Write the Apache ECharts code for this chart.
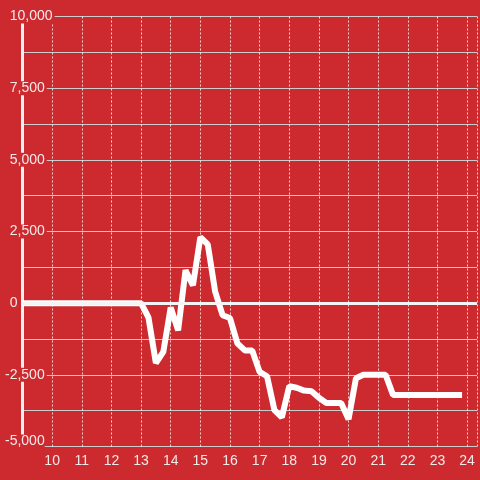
<!DOCTYPE html>
<html><head><meta charset="utf-8">
<script src="https://cdn.jsdelivr.net/npm/echarts@6/dist/echarts.min.js"></script>
<style>html,body{margin:0;padding:0;background:#cc2a2f;}#c{width:480px;height:480px;}</style>
</head><body><div id="c"></div>
<script>
// hours of day
var times = [9,9.25,9.5,9.75,10,10.25,10.5,10.75,11,11.25,11.5,11.75,12,12.25,12.5,12.75,
  13,13.25,13.5,13.75,14,14.25,14.5,14.75,15,15.25,15.5,15.75,16,16.25,16.5,16.75,
  17,17.25,17.5,17.75,18,18.25,18.5,18.75,19,19.25,19.5,19.75,20,20.25,20.5,20.75,
  21,21.25,21.5,21.75,22,22.25,22.5,22.75,23,23.25,23.5,23.83];
var values = [0,0,0,0,0,0,0,0,0,0,0,0,0,0,0,0,
  0,-500,-2090,-1700,-150,-950,1150,620,2300,2050,400,-420,-520,-1400,-1650,-1650,
  -2400,-2550,-3730,-3980,-2900,-2950,-3050,-3070,-3300,-3480,-3480,-3480,-4050,-2620,-2500,-2500,
  -2500,-2500,-3200,-3200,-3200,-3200,-3200,-3200,-3200,-3200,-3200,-3200];
var xTicks = [10,11,12,13,14,15,16,17,18,19,20,21,22,23,24];

var BG = '#cc2a2f';
var TXT = '#f2eaea';
var FONT = 'Liberation Sans, Arial, sans-serif';
var data = times.map(function(t,i){return [t, values[i]];});

var chart = echarts.init(document.getElementById('c'));
chart.setOption({
  backgroundColor: BG,
  animation: false,
  grid: {left: 20, right: 0, top: 16.5, bottom: 33.5},
  xAxis: {
    type: 'value', min: 9, max: 24.3333, interval: 1,
    axisLine: {show: false}, axisTick: {show: false},
    axisLabel: {color: TXT, fontSize: 14, fontFamily: FONT, margin: 8,
      formatter: function(v){ return xTicks.indexOf(v) >= 0 ? String(v) : ''; }},
    splitLine: {show: true, lineStyle: {color: 'rgba(255,255,255,0.8)', width: 1, type: [2,2]}}
  },
  yAxis: {
    type: 'value', min: -5000, max: 10000, interval: 2500,
    axisLine: {show: true, lineStyle: {color: '#f0f0f0', width: 3}},
    axisTick: {show: false},
    minorTick: {show: false, splitNumber: 2},
    minorSplitLine: {show: true, lineStyle: {color: '#cccccc', width: 1}},
    splitLine: {show: true, lineStyle: {color: '#cccccc', width: 1}},
    axisLabel: {
      align: 'left', margin: 19.5, color: TXT, fontSize: 14, fontFamily: FONT,
      formatter: function(v){
        var s = v.toLocaleString('en-US');
        if (v === -5000) return '{b|' + s + '}';
        return v < 0 ? '{n|' + s + '}' : '{p|' + s + '}';
      },
      rich: {
        p: {backgroundColor: BG, padding: [0,2,0,6.7], lineHeight: 14, fontSize: 14, color: TXT, fontFamily: FONT},
        n: {backgroundColor: BG, padding: [0,2,0,2], lineHeight: 14, fontSize: 14, color: TXT, fontFamily: FONT},
        b: {backgroundColor: BG, padding: [0,0,10,2], lineHeight: 14, fontSize: 14, color: TXT, fontFamily: FONT}
      }
    }
  },
  series: [{
    type: 'line', data: data, showSymbol: false, symbol: 'none',
    lineStyle: {color: '#ffffff', width: 6},
    markLine: {silent: true, symbol: 'none', label: {show: false},
      lineStyle: {color: '#f4f4f4', width: 3, type: 'solid'},
      data: [{yAxis: 0}]}
  }]
});
</script></body></html>
